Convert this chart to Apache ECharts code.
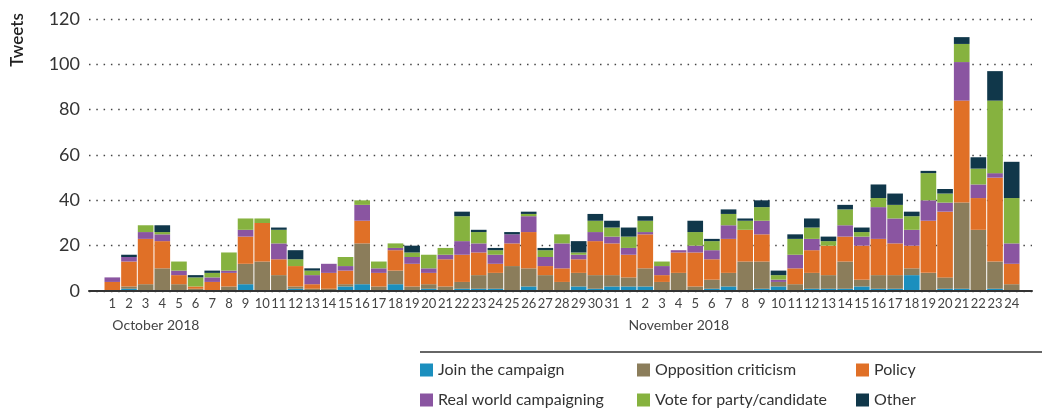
<!DOCTYPE html>
<html>
<head>
<meta charset="utf-8">
<script src="https://cdn.jsdelivr.net/npm/echarts@6/dist/echarts.min.js"></script>
<style>
  html, body { margin: 0; padding: 0; background: #fff; }
  #chart { width: 1042px; height: 413px; }
</style>
</head>
<body>
<div id="chart"></div>
<script>
var days = ["1","2","3","4","5","6","7","8","9","10","11","12","13","14","15","16","17","18","19","20","21","22","23","24","25","26","27","28","29","30","31",
  "1","2","3","4","5","6","7","8","9","10","11","12","13","14","15","16","17","18","19","20","21","22","23","24"];
var months = { 0: "October 2018", 31: "November 2018" };

var joinCampaign = [0,1,0,0,0,0,0,0,3,0,0,1,0,0,2,3,0,3,0,1,0,1,1,1,0,2,0,0,2,1,2,
  2,2,0,0,0,1,2,0,1,2,0,1,1,1,2,1,1,7,0,1,1,0,1,0];
var opposition = [0,1,3,10,3,1,0,2,9,13,7,1,1,1,1,18,2,6,2,2,2,3,6,7,11,8,7,4,6,6,5,
  4,8,4,8,2,4,6,13,12,2,3,7,6,12,3,6,6,3,8,5,38,27,12,3];
var policy = [4,11,20,12,4,1,4,6,12,17,7,9,2,7,6,10,6,9,10,5,12,12,10,4,10,16,4,6,6,15,14,
  10,15,3,9,15,9,15,14,12,0,7,10,13,11,15,16,14,10,23,29,45,14,37,9];
var realWorld = [2,2,3,3,2,0,2,1,3,0,7,0,4,4,2,7,2,1,3,2,2,6,4,4,4,7,4,11,2,4,3,
  3,1,4,1,3,4,6,0,6,1,6,5,0,5,4,14,11,7,9,4,17,6,2,9];
var vote = [0,0,3,1,4,4,2,8,5,2,6,3,2,0,4,2,3,2,2,6,3,11,5,2,0,1,3,4,1,5,4,
  5,5,2,0,6,4,5,4,6,2,7,5,2,7,2,4,6,6,12,4,8,7,32,20];
var other = [0,1,0,3,0,1,1,0,0,0,1,4,1,0,0,0,0,0,3,0,0,2,1,1,1,1,1,0,5,3,3,
  4,2,0,0,5,1,2,1,3,2,2,4,2,2,2,6,5,2,1,2,3,5,13,16];

var seriesDefs = [
  { name: "Join the campaign", data: joinCampaign, color: "#1b8fbe" },
  { name: "Opposition criticism", data: opposition, color: "#8b7d5b" },
  { name: "Policy", data: policy, color: "#e07027" },
  { name: "Real world campaigning", data: realWorld, color: "#8a55a1" },
  { name: "Vote for party/candidate", data: vote, color: "#86b23f" },
  { name: "Other", data: other, color: "#10374a" }
];

// legend slots, two rows by three columns
var legendCols = [420, 637, 856];
var legendRows = [362, 392];

var font = "Lato, 'Noto Sans', sans-serif";
var myChart = echarts.init(document.getElementById("chart"));

var option = {
  animation: false,
  textStyle: { fontFamily: font },
  grid: [
    { left: 89, right: 10, top: 19, bottom: 122 },
    { left: 104, right: 22, top: 19, bottom: 122 }
  ],
  xAxis: [
    {
      type: "category",
      gridIndex: 0,
      data: [""],
      z: 5,
      axisLine: { lineStyle: { color: "#333", width: 2 } },
      axisTick: { show: false },
      axisLabel: { show: false }
    },
    {
      type: "category",
      gridIndex: 1,
      data: days,
      axisLine: { show: false },
      axisTick: { show: false },
      axisLabel: { interval: 0, color: "#444", fontSize: 13, margin: 6, fontFamily: font }
    },
    {
      type: "category",
      gridIndex: 1,
      position: "bottom",
      offset: 19,
      data: days,
      axisLine: { show: false },
      axisTick: { show: false },
      axisLabel: {
        interval: 0,
        color: "#444",
        fontSize: 14,
        align: "left",
        fontFamily: font,
        formatter: function (v, i) { return months[i] || ""; }
      }
    }
  ],
  yAxis: [
    {
      type: "value",
      gridIndex: 0,
      min: 0,
      max: 120,
      interval: 20,
      axisLine: { show: false },
      axisTick: { show: false },
      axisLabel: { color: "#333", fontSize: 18, margin: 9, fontFamily: font },
      splitLine: { lineStyle: { color: "#444", width: 1.3, type: [1.5, 5.8] } }
    },
    {
      type: "value",
      gridIndex: 1,
      min: 0,
      max: 120,
      interval: 20,
      show: false
    }
  ],
  legend: seriesDefs.map(function (s, i) {
    return {
      left: legendCols[i % 3],
      top: legendRows[i < 3 ? 0 : 1],
      padding: 0,
      itemWidth: 13,
      itemHeight: 13,
      itemGap: 0,
      icon: "rect",
      textStyle: { fontSize: 16, color: "#333", fontFamily: font },
      data: [s.name]
    };
  }),
  graphic: [
    {
      type: "text",
      x: 18, y: 40,
      rotation: Math.PI / 2,
      style: {
        text: "Tweets", fill: "#222", font: "600 17px " + font,
        textAlign: "center", textVerticalAlign: "middle"
      }
    },
    {
      type: "line",
      shape: { x1: 420, y1: 352, x2: 1042, y2: 352 },
      style: { stroke: "#333", lineWidth: 1.5 }
    }
  ],
  series: seriesDefs.map(function (s) {
    return {
      name: s.name,
      type: "bar",
      stack: "total",
      xAxisIndex: 1,
      yAxisIndex: 1,
      barCategoryGap: "6%",
      data: s.data,
      itemStyle: { color: s.color }
    };
  })
};

myChart.setOption(option);
</script>
</body>
</html>
